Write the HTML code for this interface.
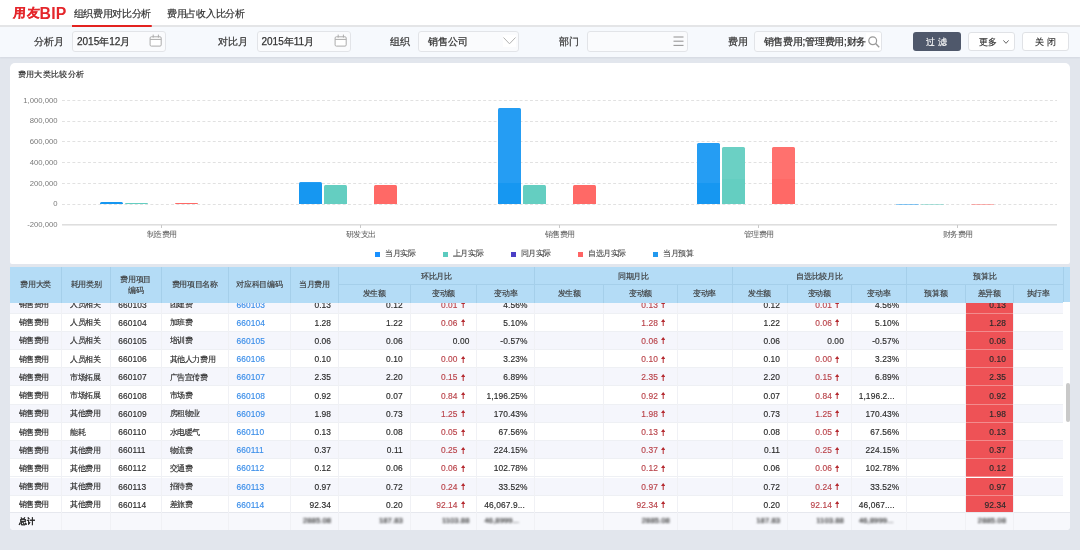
<!DOCTYPE html><html><head><meta charset="utf-8"><style>
*{box-sizing:border-box;margin:0;padding:0}
html,body{width:1080px;height:550px;overflow:hidden}
body{position:relative;background:#e2e6ed;font-family:"Liberation Sans",sans-serif;color:#333}
.abs{position:absolute}
.t{position:absolute;white-space:nowrap;line-height:1}
#hdr{left:0;top:0;width:1080px;height:27px;background:#fff;border-bottom:2px solid #e4e5e7}
#fb{left:0;top:27px;width:1080px;height:29.5px;background:#f6f9fd;box-shadow:0 1px 1.5px rgba(120,130,150,0.12)}
.lbl{font-size:10px;color:#3a3a3a;-webkit-text-stroke:0.25px #3a3a3a}
.inp{position:absolute;top:31px;height:21px;border:1px solid #e2e4e8;border-radius:3px;background:#fafbfd}
.inp .v{position:absolute;left:4px;top:5px;font-size:10px;color:#333;white-space:nowrap;line-height:1;-webkit-text-stroke:0.25px #333}
.btn{-webkit-text-stroke:0.15px currentColor;position:absolute;top:32px;height:19px;border-radius:3px;font-size:9px;text-align:center;line-height:20.5px}
.card{position:absolute;background:#fff}
.ax{font-size:7.7px;color:#7a7a7a;text-align:right;width:50px}
.grid{position:absolute;left:62px;width:995px;height:1px;background:repeating-linear-gradient(to right,#e3e3e3 0,#e3e3e3 3px,transparent 3px,transparent 5.2px)}
.bar{position:absolute;border-radius:1.5px 1.5px 0 0}
.xl{font-size:7.5px;color:#5a5a5a;letter-spacing:-0.4px}
.lg{position:absolute;top:251.5px;width:5px;height:5px}
.lgt{font-size:7.5px;color:#4a4a4a;letter-spacing:-0.4px;-webkit-text-stroke:0.1px #4a4a4a}
.th{position:absolute;font-size:7.5px;letter-spacing:-0.35px;color:#3a3a3a;text-align:center;line-height:1;-webkit-text-stroke:0.15px #3a3a3a}
.cell{position:absolute;font-size:7.5px;letter-spacing:-0.3px;line-height:1;white-space:nowrap;color:#2a2a2a;-webkit-text-stroke:0.15px currentColor}
.num{font-size:8.4px;letter-spacing:0.1px}
.r{text-align:right}
.red{color:#b9434a}
.arr{color:#b52a30;font-size:7.5px}
.lnk{color:#3b8ee9}
</style></head><body><div id="root" style="position:absolute;left:0;top:0;width:1080px;height:550px;will-change:transform">
<div id="hdr" class="abs"></div>
<div class="t" style="left:12.8px;top:7.2px;color:#e4262b;font-weight:700;font-size:12.5px;letter-spacing:0.9px;-webkit-text-stroke:0.25px #e4262b;transform:skewX(-4deg);transform-origin:0 100%">用友</div>
<div class="t" style="left:39.6px;top:6.3px;color:#e4262b;font-weight:bold;font-size:15.8px;letter-spacing:0.15px">BIP</div>
<div class="t" style="left:73.6px;top:8.5px;font-size:9.75px;letter-spacing:-0.3px;color:#333;-webkit-text-stroke:0.2px #333">组织费用对比分析</div>
<div class="t" style="left:167px;top:8.5px;font-size:9.75px;letter-spacing:-0.3px;color:#333;-webkit-text-stroke:0.2px #333">费用占收入比分析</div>
<div id="fb" class="abs"></div>
<div class="abs" style="left:72px;top:25px;width:80px;height:2px;border-radius:0 1px 1px 0;background:#e3221f"></div>
<div class="t lbl" style="left:33.5px;top:37px">分析月</div>
<div class="t lbl" style="left:217.8px;top:37px">对比月</div>
<div class="t lbl" style="left:390px;top:37px">组织</div>
<div class="t lbl" style="left:558.7px;top:37px">部门</div>
<div class="t lbl" style="left:727.5px;top:37px">费用</div>
<div class="inp" style="left:72px;width:93.5px"><div class="v">2015年12月</div></div>
<svg class="abs" style="left:149px;top:34px" width="14" height="14" viewBox="0 0 14 14"><rect x="1.1" y="2.8" width="11.1" height="9.3" rx="1.2" fill="#fff" stroke="#acacac" stroke-width="1"/><line x1="1.1" y1="5.4" x2="12.2" y2="5.4" stroke="#acacac" stroke-width="1"/><line x1="4.2" y1="0.6" x2="4.2" y2="3.6" stroke="#acacac"/><line x1="9.4" y1="0.6" x2="9.4" y2="3.6" stroke="#acacac"/></svg>
<div class="inp" style="left:256.5px;width:94px"><div class="v">2015年11月</div></div>
<svg class="abs" style="left:333.5px;top:34px" width="14" height="14" viewBox="0 0 14 14"><rect x="1.1" y="2.8" width="11.1" height="9.3" rx="1.2" fill="#fff" stroke="#acacac" stroke-width="1"/><line x1="1.1" y1="5.4" x2="12.2" y2="5.4" stroke="#acacac" stroke-width="1"/><line x1="4.2" y1="0.6" x2="4.2" y2="3.6" stroke="#acacac"/><line x1="9.4" y1="0.6" x2="9.4" y2="3.6" stroke="#acacac"/></svg>
<div class="inp" style="left:418px;width:101px"><div class="v" style="left:9px">销售公司</div></div>
<div class="abs" style="left:503px;top:35px;width:13px;height:11.5px;background:#fff"></div>
<svg class="abs" style="left:503px;top:37.3px" width="13" height="8" viewBox="0 0 13 8"><polyline points="0.5,0.5 6.5,6.8 12.5,0.5" fill="none" stroke="#b0b0b0" stroke-width="1"/></svg>
<div class="inp" style="left:586.5px;width:101.5px"></div>
<svg class="abs" style="left:673px;top:36px" width="11" height="11" viewBox="0 0 11 11"><g stroke="#999" stroke-width="1.1"><line x1="0.5" y1="1" x2="10.5" y2="1"/><line x1="0.5" y1="5.2" x2="10.5" y2="5.2"/><line x1="0.5" y1="9.4" x2="10.5" y2="9.4"/></g></svg>
<div class="inp" style="left:753.5px;width:128.5px;overflow:hidden"><div class="v" style="left:9px;letter-spacing:-0.25px">销售费用;管理费用;财务</div><div class="abs" style="left:111.5px;top:1px;width:15px;height:17px;background:#fff"></div></div>
<svg class="abs" style="left:867.5px;top:36.3px" width="12" height="12" viewBox="0 0 12 12"><circle cx="4.7" cy="4.7" r="3.9" fill="none" stroke="#999" stroke-width="1.2"/><line x1="7.6" y1="7.6" x2="11.2" y2="11.2" stroke="#999" stroke-width="1.4"/></svg>
<div class="btn" style="left:913px;width:47.5px;background:#4f586b;color:#fff;letter-spacing:3.5px;padding-left:3px">过滤</div>
<div class="btn" style="left:967.5px;width:47px;background:#fff;border:1px solid #e0e2e6;color:#333;line-height:19px"><span style="position:absolute;left:10px;top:0">更多</span></div>
<svg class="abs" style="left:1002.5px;top:39.5px" width="6" height="4" viewBox="0 0 6 4"><polyline points="0.4,0.4 3,3.3 5.6,0.4" fill="none" stroke="#555" stroke-width="0.9"/></svg>
<div class="btn" style="left:1022px;width:47px;background:#fff;border:1px solid #e0e2e6;color:#333;letter-spacing:3.5px;padding-left:3px;line-height:19px">关闭</div>
<div class="card" style="left:10px;top:63px;width:1060px;height:201px;border-radius:5px 5px 2px 2px"></div>
<div class="t" style="left:17.8px;top:69.8px;font-size:8.3px;letter-spacing:0.3px;color:#2a2a2a;-webkit-text-stroke:0.15px #2a2a2a">费用大类比较分析</div>
<div class="t ax" style="left:7.5px;top:96.5px">1,000,000</div>
<div class="t ax" style="left:7.5px;top:117.2px">800,000</div>
<div class="t ax" style="left:7.5px;top:138.0px">600,000</div>
<div class="t ax" style="left:7.5px;top:158.8px">400,000</div>
<div class="t ax" style="left:7.5px;top:179.5px">200,000</div>
<div class="t ax" style="left:7.5px;top:200.2px">0</div>
<div class="t ax" style="left:7.5px;top:221.0px">-200,000</div>
<svg class="abs" style="left:62px;top:90px" width="995" height="120" viewBox="0 0 995 120"><line x1="0" y1="10.5" x2="995" y2="10.5" stroke="#e1e1e1" stroke-width="1" stroke-dasharray="2.9 2.3"/><line x1="0" y1="31.5" x2="995" y2="31.5" stroke="#e1e1e1" stroke-width="1" stroke-dasharray="2.9 2.3"/><line x1="0" y1="51.5" x2="995" y2="51.5" stroke="#e1e1e1" stroke-width="1" stroke-dasharray="2.9 2.3"/><line x1="0" y1="72.5" x2="995" y2="72.5" stroke="#e1e1e1" stroke-width="1" stroke-dasharray="2.9 2.3"/><line x1="0" y1="93.5" x2="995" y2="93.5" stroke="#e1e1e1" stroke-width="1" stroke-dasharray="2.9 2.3"/><line x1="0" y1="114.5" x2="995" y2="114.5" stroke="#e1e1e1" stroke-width="1" stroke-dasharray="2.9 2.3"/></svg>
<div class="abs" style="left:62px;top:224px;width:995px;height:1px;background:#dedede"></div>
<div class="abs" style="left:62px;top:225px;width:995px;height:1px;background:#ececec"></div>
<div class="abs" style="left:161.0px;top:225px;width:1px;height:2.5px;background:#c8c8c8"></div>
<div class="t xl" style="left:146.5px;top:230.9px">制造费用</div>
<div class="bar" style="left:100.0px;top:201.8px;width:23px;height:2.4px;background:#1697f1;opacity:1"></div>
<div class="bar" style="left:125.0px;top:203.0px;width:23px;height:1.2px;background:#64cec1;opacity:1"></div>
<div class="bar" style="left:175.0px;top:203.0px;width:23px;height:1.2px;background:#ff6966;opacity:1"></div>
<div class="abs" style="left:360.0px;top:225px;width:1px;height:2.5px;background:#c8c8c8"></div>
<div class="t xl" style="left:345.5px;top:230.9px">研发支出</div>
<div class="bar" style="left:299.0px;top:182.2px;width:23px;height:22.0px;background:linear-gradient(to bottom,#259df3 0,#259df3 1.0px,#1697f1 1.0px,#1697f1 100%);opacity:1"></div>
<div class="bar" style="left:324.0px;top:184.7px;width:23px;height:19.5px;background:#64cec1;opacity:1"></div>
<div class="bar" style="left:374.0px;top:184.7px;width:23px;height:19.5px;background:#ff6966;opacity:1"></div>
<div class="abs" style="left:559.0px;top:225px;width:1px;height:2.5px;background:#c8c8c8"></div>
<div class="t xl" style="left:544.5px;top:230.9px">销售费用</div>
<div class="bar" style="left:498.0px;top:108.2px;width:23px;height:96.0px;background:linear-gradient(to bottom,#259df3 0,#259df3 75.0px,#1697f1 75.0px,#1697f1 100%);opacity:1"></div>
<div class="bar" style="left:523.0px;top:184.5px;width:23px;height:19.7px;background:#64cec1;opacity:1"></div>
<div class="bar" style="left:573.0px;top:184.5px;width:23px;height:19.7px;background:#ff6966;opacity:1"></div>
<div class="abs" style="left:758.0px;top:225px;width:1px;height:2.5px;background:#c8c8c8"></div>
<div class="t xl" style="left:743.5px;top:230.9px">管理费用</div>
<div class="bar" style="left:697.0px;top:143.2px;width:23px;height:61.0px;background:linear-gradient(to bottom,#259df3 0,#259df3 40.0px,#1697f1 40.0px,#1697f1 100%);opacity:1"></div>
<div class="bar" style="left:722.0px;top:146.8px;width:23px;height:57.4px;background:linear-gradient(to bottom,#6bd0c4 0,#6bd0c4 31.8px,#64cec1 31.8px,#64cec1 100%);opacity:1"></div>
<div class="bar" style="left:772.0px;top:146.8px;width:23px;height:57.4px;background:linear-gradient(to bottom,#ff716e 0,#ff716e 31.8px,#ff6966 31.8px,#ff6966 100%);opacity:1"></div>
<div class="abs" style="left:957.0px;top:225px;width:1px;height:2.5px;background:#c8c8c8"></div>
<div class="t xl" style="left:942.5px;top:230.9px">财务费用</div>
<div class="bar" style="left:896.0px;top:204.0px;width:23px;height:1.0px;background:#1697f1;opacity:0.5"></div>
<div class="bar" style="left:921.0px;top:204.0px;width:23px;height:1.0px;background:#64cec1;opacity:0.5"></div>
<div class="bar" style="left:971.0px;top:204.0px;width:23px;height:1.0px;background:#ff6966;opacity:0.5"></div>
<div class="lg" style="left:375px;background:#1890ff"></div>
<div class="t lgt" style="left:385.0px;top:250.3px">当月实际</div>
<div class="lg" style="left:442.8px;background:#5ccbbf"></div>
<div class="t lgt" style="left:452.8px;top:250.3px">上月实际</div>
<div class="lg" style="left:510.5px;background:#4b3fc6"></div>
<div class="t lgt" style="left:520.5px;top:250.3px">同月实际</div>
<div class="lg" style="left:578px;background:#ff6464"></div>
<div class="t lgt" style="left:588.0px;top:250.3px">自选月实际</div>
<div class="lg" style="left:653px;background:#2299ee"></div>
<div class="t lgt" style="left:663.0px;top:250.3px">当月预算</div>
<div class="card" style="left:10px;top:267px;width:1060px;height:263px;border-radius:0 0 4px 4px;overflow:hidden" id="tbl">
<div class="abs" style="left:0;top:28.30px;width:1053.2px;height:18.22px;background:#f5f6fc;border-bottom:1px solid #eef0f4"></div>
<div class="abs" style="left:0;top:46.52px;width:1053.2px;height:18.22px;background:#ffffff;border-bottom:1px solid #eef0f4"></div>
<div class="abs" style="left:0;top:64.74px;width:1053.2px;height:18.22px;background:#f5f6fc;border-bottom:1px solid #eef0f4"></div>
<div class="abs" style="left:0;top:82.96px;width:1053.2px;height:18.22px;background:#ffffff;border-bottom:1px solid #eef0f4"></div>
<div class="abs" style="left:0;top:101.18px;width:1053.2px;height:18.22px;background:#f5f6fc;border-bottom:1px solid #eef0f4"></div>
<div class="abs" style="left:0;top:119.40px;width:1053.2px;height:18.22px;background:#ffffff;border-bottom:1px solid #eef0f4"></div>
<div class="abs" style="left:0;top:137.62px;width:1053.2px;height:18.22px;background:#f5f6fc;border-bottom:1px solid #eef0f4"></div>
<div class="abs" style="left:0;top:155.84px;width:1053.2px;height:18.22px;background:#ffffff;border-bottom:1px solid #eef0f4"></div>
<div class="abs" style="left:0;top:174.06px;width:1053.2px;height:18.22px;background:#f5f6fc;border-bottom:1px solid #eef0f4"></div>
<div class="abs" style="left:0;top:192.28px;width:1053.2px;height:18.22px;background:#ffffff;border-bottom:1px solid #eef0f4"></div>
<div class="abs" style="left:0;top:210.50px;width:1053.2px;height:18.22px;background:#f5f6fc;border-bottom:1px solid #eef0f4"></div>
<div class="abs" style="left:0;top:228.72px;width:1053.2px;height:18.22px;background:#ffffff;border-bottom:1px solid #eef0f4"></div>
<div class="abs" style="left:955.3px;top:28.30px;width:47.9px;height:18.22px;background:#ee5256;border-bottom:1px solid #f28b8d"></div>
<div class="abs" style="left:955.3px;top:46.52px;width:47.9px;height:18.22px;background:#ee5256;border-bottom:1px solid #f28b8d"></div>
<div class="abs" style="left:955.3px;top:64.74px;width:47.9px;height:18.22px;background:#ee5256;border-bottom:1px solid #f28b8d"></div>
<div class="abs" style="left:955.3px;top:82.96px;width:47.9px;height:18.22px;background:#ee5256;border-bottom:1px solid #f28b8d"></div>
<div class="abs" style="left:955.3px;top:101.18px;width:47.9px;height:18.22px;background:#ee5256;border-bottom:1px solid #f28b8d"></div>
<div class="abs" style="left:955.3px;top:119.40px;width:47.9px;height:18.22px;background:#ee5256;border-bottom:1px solid #f28b8d"></div>
<div class="abs" style="left:955.3px;top:137.62px;width:47.9px;height:18.22px;background:#ee5256;border-bottom:1px solid #f28b8d"></div>
<div class="abs" style="left:955.3px;top:155.84px;width:47.9px;height:18.22px;background:#ee5256;border-bottom:1px solid #f28b8d"></div>
<div class="abs" style="left:955.3px;top:174.06px;width:47.9px;height:18.22px;background:#ee5256;border-bottom:1px solid #f28b8d"></div>
<div class="abs" style="left:955.3px;top:192.28px;width:47.9px;height:18.22px;background:#ee5256;border-bottom:1px solid #f28b8d"></div>
<div class="abs" style="left:955.3px;top:210.50px;width:47.9px;height:18.22px;background:#ee5256;border-bottom:1px solid #f28b8d"></div>
<div class="abs" style="left:955.3px;top:228.72px;width:47.9px;height:18.22px;background:#ee5256;border-bottom:1px solid #f28b8d"></div>
<div class="abs" style="left:0;top:245.0px;width:1060px;height:19px;background:#f7f8fc;border-top:1px solid #e6e8ee"></div>
<div class="abs" style="left:51.0px;top:30px;width:1px;height:263px;background:#f0f1f5"></div>
<div class="abs" style="left:99.8px;top:30px;width:1px;height:263px;background:#f0f1f5"></div>
<div class="abs" style="left:150.5px;top:30px;width:1px;height:263px;background:#f0f1f5"></div>
<div class="abs" style="left:217.9px;top:30px;width:1px;height:263px;background:#f0f1f5"></div>
<div class="abs" style="left:279.9px;top:30px;width:1px;height:263px;background:#f0f1f5"></div>
<div class="abs" style="left:327.8px;top:30px;width:1px;height:263px;background:#f0f1f5"></div>
<div class="abs" style="left:399.5px;top:30px;width:1px;height:263px;background:#f0f1f5"></div>
<div class="abs" style="left:466.2px;top:30px;width:1px;height:263px;background:#f0f1f5"></div>
<div class="abs" style="left:524.2px;top:30px;width:1px;height:263px;background:#f0f1f5"></div>
<div class="abs" style="left:593.3px;top:30px;width:1px;height:263px;background:#f0f1f5"></div>
<div class="abs" style="left:666.6px;top:30px;width:1px;height:263px;background:#f0f1f5"></div>
<div class="abs" style="left:721.5px;top:30px;width:1px;height:263px;background:#f0f1f5"></div>
<div class="abs" style="left:776.8px;top:30px;width:1px;height:263px;background:#f0f1f5"></div>
<div class="abs" style="left:840.6px;top:30px;width:1px;height:263px;background:#f0f1f5"></div>
<div class="abs" style="left:896.0px;top:30px;width:1px;height:263px;background:#f0f1f5"></div>
<div class="abs" style="left:954.8px;top:30px;width:1px;height:263px;background:#f0f1f5"></div>
<div class="abs" style="left:1002.7px;top:30px;width:1px;height:263px;background:#f0f1f5"></div>
<div class="cell" style="left:8.5px;top:34.01px;letter-spacing:-0.35px">销售费用</div>
<div class="cell" style="left:60.0px;top:34.01px;letter-spacing:-0.35px">人员相关</div>
<div class="cell num" style="left:108.3px;top:33.51px">660103</div>
<div class="cell" style="left:159.5px;top:34.01px;letter-spacing:-0.35px">团建费</div>
<div class="cell num lnk" style="left:226.4px;top:33.51px">660103</div>
<div class="cell num r" style="left:280.4px;width:40.7px;top:33.51px">0.13</div>
<div class="cell num r" style="left:328.3px;width:64.5px;top:33.51px">0.12</div>
<div class="cell num r red" style="left:400.0px;width:55.0px;top:33.51px">0.01<svg style="margin-left:3px;vertical-align:-0.5px" width="4.4" height="7" viewBox="0 0 4.4 7"><path d="M2.2 0 L4.4 3 L2.7 3 L2.7 7 L1.7 7 L1.7 3 L0 3 Z" fill="#b52a30"/></svg></div>
<div class="cell num r" style="left:466.7px;width:50.8px;top:33.51px">4.56%</div>
<div class="cell num r red" style="left:593.8px;width:61.6px;top:33.51px">0.13<svg style="margin-left:3px;vertical-align:-0.5px" width="4.4" height="7" viewBox="0 0 4.4 7"><path d="M2.2 0 L4.4 3 L2.7 3 L2.7 7 L1.7 7 L1.7 3 L0 3 Z" fill="#b52a30"/></svg></div>
<div class="cell num r" style="left:722.0px;width:48.1px;top:33.51px">0.12</div>
<div class="cell num r red" style="left:777.3px;width:52.1px;top:33.51px">0.01<svg style="margin-left:3px;vertical-align:-0.5px" width="4.4" height="7" viewBox="0 0 4.4 7"><path d="M2.2 0 L4.4 3 L2.7 3 L2.7 7 L1.7 7 L1.7 3 L0 3 Z" fill="#b52a30"/></svg></div>
<div class="cell num r" style="left:841.1px;width:48.2px;top:33.51px">4.56%</div>
<div class="cell num r" style="left:955.3px;width:40.7px;top:33.51px">0.13</div>
<div class="cell" style="left:8.5px;top:52.23px;letter-spacing:-0.35px">销售费用</div>
<div class="cell" style="left:60.0px;top:52.23px;letter-spacing:-0.35px">人员相关</div>
<div class="cell num" style="left:108.3px;top:51.73px">660104</div>
<div class="cell" style="left:159.5px;top:52.23px;letter-spacing:-0.35px">加班费</div>
<div class="cell num lnk" style="left:226.4px;top:51.73px">660104</div>
<div class="cell num r" style="left:280.4px;width:40.7px;top:51.73px">1.28</div>
<div class="cell num r" style="left:328.3px;width:64.5px;top:51.73px">1.22</div>
<div class="cell num r red" style="left:400.0px;width:55.0px;top:51.73px">0.06<svg style="margin-left:3px;vertical-align:-0.5px" width="4.4" height="7" viewBox="0 0 4.4 7"><path d="M2.2 0 L4.4 3 L2.7 3 L2.7 7 L1.7 7 L1.7 3 L0 3 Z" fill="#b52a30"/></svg></div>
<div class="cell num r" style="left:466.7px;width:50.8px;top:51.73px">5.10%</div>
<div class="cell num r red" style="left:593.8px;width:61.6px;top:51.73px">1.28<svg style="margin-left:3px;vertical-align:-0.5px" width="4.4" height="7" viewBox="0 0 4.4 7"><path d="M2.2 0 L4.4 3 L2.7 3 L2.7 7 L1.7 7 L1.7 3 L0 3 Z" fill="#b52a30"/></svg></div>
<div class="cell num r" style="left:722.0px;width:48.1px;top:51.73px">1.22</div>
<div class="cell num r red" style="left:777.3px;width:52.1px;top:51.73px">0.06<svg style="margin-left:3px;vertical-align:-0.5px" width="4.4" height="7" viewBox="0 0 4.4 7"><path d="M2.2 0 L4.4 3 L2.7 3 L2.7 7 L1.7 7 L1.7 3 L0 3 Z" fill="#b52a30"/></svg></div>
<div class="cell num r" style="left:841.1px;width:48.2px;top:51.73px">5.10%</div>
<div class="cell num r" style="left:955.3px;width:40.7px;top:51.73px">1.28</div>
<div class="cell" style="left:8.5px;top:70.45px;letter-spacing:-0.35px">销售费用</div>
<div class="cell" style="left:60.0px;top:70.45px;letter-spacing:-0.35px">人员相关</div>
<div class="cell num" style="left:108.3px;top:69.95px">660105</div>
<div class="cell" style="left:159.5px;top:70.45px;letter-spacing:-0.35px">培训费</div>
<div class="cell num lnk" style="left:226.4px;top:69.95px">660105</div>
<div class="cell num r" style="left:280.4px;width:40.7px;top:69.95px">0.06</div>
<div class="cell num r" style="left:328.3px;width:64.5px;top:69.95px">0.06</div>
<div class="cell num r" style="left:400.0px;width:59.5px;top:69.95px">0.00</div>
<div class="cell num r" style="left:466.7px;width:50.8px;top:69.95px">-0.57%</div>
<div class="cell num r red" style="left:593.8px;width:61.6px;top:69.95px">0.06<svg style="margin-left:3px;vertical-align:-0.5px" width="4.4" height="7" viewBox="0 0 4.4 7"><path d="M2.2 0 L4.4 3 L2.7 3 L2.7 7 L1.7 7 L1.7 3 L0 3 Z" fill="#b52a30"/></svg></div>
<div class="cell num r" style="left:722.0px;width:48.1px;top:69.95px">0.06</div>
<div class="cell num r" style="left:777.3px;width:56.6px;top:69.95px">0.00</div>
<div class="cell num r" style="left:841.1px;width:48.2px;top:69.95px">-0.57%</div>
<div class="cell num r" style="left:955.3px;width:40.7px;top:69.95px">0.06</div>
<div class="cell" style="left:8.5px;top:88.67px;letter-spacing:-0.35px">销售费用</div>
<div class="cell" style="left:60.0px;top:88.67px;letter-spacing:-0.35px">人员相关</div>
<div class="cell num" style="left:108.3px;top:88.17px">660106</div>
<div class="cell" style="left:159.5px;top:88.67px;letter-spacing:-0.35px">其他人力费用</div>
<div class="cell num lnk" style="left:226.4px;top:88.17px">660106</div>
<div class="cell num r" style="left:280.4px;width:40.7px;top:88.17px">0.10</div>
<div class="cell num r" style="left:328.3px;width:64.5px;top:88.17px">0.10</div>
<div class="cell num r red" style="left:400.0px;width:55.0px;top:88.17px">0.00<svg style="margin-left:3px;vertical-align:-0.5px" width="4.4" height="7" viewBox="0 0 4.4 7"><path d="M2.2 0 L4.4 3 L2.7 3 L2.7 7 L1.7 7 L1.7 3 L0 3 Z" fill="#b52a30"/></svg></div>
<div class="cell num r" style="left:466.7px;width:50.8px;top:88.17px">3.23%</div>
<div class="cell num r red" style="left:593.8px;width:61.6px;top:88.17px">0.10<svg style="margin-left:3px;vertical-align:-0.5px" width="4.4" height="7" viewBox="0 0 4.4 7"><path d="M2.2 0 L4.4 3 L2.7 3 L2.7 7 L1.7 7 L1.7 3 L0 3 Z" fill="#b52a30"/></svg></div>
<div class="cell num r" style="left:722.0px;width:48.1px;top:88.17px">0.10</div>
<div class="cell num r red" style="left:777.3px;width:52.1px;top:88.17px">0.00<svg style="margin-left:3px;vertical-align:-0.5px" width="4.4" height="7" viewBox="0 0 4.4 7"><path d="M2.2 0 L4.4 3 L2.7 3 L2.7 7 L1.7 7 L1.7 3 L0 3 Z" fill="#b52a30"/></svg></div>
<div class="cell num r" style="left:841.1px;width:48.2px;top:88.17px">3.23%</div>
<div class="cell num r" style="left:955.3px;width:40.7px;top:88.17px">0.10</div>
<div class="cell" style="left:8.5px;top:106.89px;letter-spacing:-0.35px">销售费用</div>
<div class="cell" style="left:60.0px;top:106.89px;letter-spacing:-0.35px">市场拓展</div>
<div class="cell num" style="left:108.3px;top:106.39px">660107</div>
<div class="cell" style="left:159.5px;top:106.89px;letter-spacing:-0.35px">广告宣传费</div>
<div class="cell num lnk" style="left:226.4px;top:106.39px">660107</div>
<div class="cell num r" style="left:280.4px;width:40.7px;top:106.39px">2.35</div>
<div class="cell num r" style="left:328.3px;width:64.5px;top:106.39px">2.20</div>
<div class="cell num r red" style="left:400.0px;width:55.0px;top:106.39px">0.15<svg style="margin-left:3px;vertical-align:-0.5px" width="4.4" height="7" viewBox="0 0 4.4 7"><path d="M2.2 0 L4.4 3 L2.7 3 L2.7 7 L1.7 7 L1.7 3 L0 3 Z" fill="#b52a30"/></svg></div>
<div class="cell num r" style="left:466.7px;width:50.8px;top:106.39px">6.89%</div>
<div class="cell num r red" style="left:593.8px;width:61.6px;top:106.39px">2.35<svg style="margin-left:3px;vertical-align:-0.5px" width="4.4" height="7" viewBox="0 0 4.4 7"><path d="M2.2 0 L4.4 3 L2.7 3 L2.7 7 L1.7 7 L1.7 3 L0 3 Z" fill="#b52a30"/></svg></div>
<div class="cell num r" style="left:722.0px;width:48.1px;top:106.39px">2.20</div>
<div class="cell num r red" style="left:777.3px;width:52.1px;top:106.39px">0.15<svg style="margin-left:3px;vertical-align:-0.5px" width="4.4" height="7" viewBox="0 0 4.4 7"><path d="M2.2 0 L4.4 3 L2.7 3 L2.7 7 L1.7 7 L1.7 3 L0 3 Z" fill="#b52a30"/></svg></div>
<div class="cell num r" style="left:841.1px;width:48.2px;top:106.39px">6.89%</div>
<div class="cell num r" style="left:955.3px;width:40.7px;top:106.39px">2.35</div>
<div class="cell" style="left:8.5px;top:125.11px;letter-spacing:-0.35px">销售费用</div>
<div class="cell" style="left:60.0px;top:125.11px;letter-spacing:-0.35px">市场拓展</div>
<div class="cell num" style="left:108.3px;top:124.61px">660108</div>
<div class="cell" style="left:159.5px;top:125.11px;letter-spacing:-0.35px">市场费</div>
<div class="cell num lnk" style="left:226.4px;top:124.61px">660108</div>
<div class="cell num r" style="left:280.4px;width:40.7px;top:124.61px">0.92</div>
<div class="cell num r" style="left:328.3px;width:64.5px;top:124.61px">0.07</div>
<div class="cell num r red" style="left:400.0px;width:55.0px;top:124.61px">0.84<svg style="margin-left:3px;vertical-align:-0.5px" width="4.4" height="7" viewBox="0 0 4.4 7"><path d="M2.2 0 L4.4 3 L2.7 3 L2.7 7 L1.7 7 L1.7 3 L0 3 Z" fill="#b52a30"/></svg></div>
<div class="cell num r" style="left:466.7px;width:50.8px;top:124.61px">1,196.25%</div>
<div class="cell num r red" style="left:593.8px;width:61.6px;top:124.61px">0.92<svg style="margin-left:3px;vertical-align:-0.5px" width="4.4" height="7" viewBox="0 0 4.4 7"><path d="M2.2 0 L4.4 3 L2.7 3 L2.7 7 L1.7 7 L1.7 3 L0 3 Z" fill="#b52a30"/></svg></div>
<div class="cell num r" style="left:722.0px;width:48.1px;top:124.61px">0.07</div>
<div class="cell num r red" style="left:777.3px;width:52.1px;top:124.61px">0.84<svg style="margin-left:3px;vertical-align:-0.5px" width="4.4" height="7" viewBox="0 0 4.4 7"><path d="M2.2 0 L4.4 3 L2.7 3 L2.7 7 L1.7 7 L1.7 3 L0 3 Z" fill="#b52a30"/></svg></div>
<div class="cell num" style="left:848.7px;top:124.61px">1,196.2...</div>
<div class="cell num r" style="left:955.3px;width:40.7px;top:124.61px">0.92</div>
<div class="cell" style="left:8.5px;top:143.33px;letter-spacing:-0.35px">销售费用</div>
<div class="cell" style="left:60.0px;top:143.33px;letter-spacing:-0.35px">其他费用</div>
<div class="cell num" style="left:108.3px;top:142.83px">660109</div>
<div class="cell" style="left:159.5px;top:143.33px;letter-spacing:-0.35px">房租物业</div>
<div class="cell num lnk" style="left:226.4px;top:142.83px">660109</div>
<div class="cell num r" style="left:280.4px;width:40.7px;top:142.83px">1.98</div>
<div class="cell num r" style="left:328.3px;width:64.5px;top:142.83px">0.73</div>
<div class="cell num r red" style="left:400.0px;width:55.0px;top:142.83px">1.25<svg style="margin-left:3px;vertical-align:-0.5px" width="4.4" height="7" viewBox="0 0 4.4 7"><path d="M2.2 0 L4.4 3 L2.7 3 L2.7 7 L1.7 7 L1.7 3 L0 3 Z" fill="#b52a30"/></svg></div>
<div class="cell num r" style="left:466.7px;width:50.8px;top:142.83px">170.43%</div>
<div class="cell num r red" style="left:593.8px;width:61.6px;top:142.83px">1.98<svg style="margin-left:3px;vertical-align:-0.5px" width="4.4" height="7" viewBox="0 0 4.4 7"><path d="M2.2 0 L4.4 3 L2.7 3 L2.7 7 L1.7 7 L1.7 3 L0 3 Z" fill="#b52a30"/></svg></div>
<div class="cell num r" style="left:722.0px;width:48.1px;top:142.83px">0.73</div>
<div class="cell num r red" style="left:777.3px;width:52.1px;top:142.83px">1.25<svg style="margin-left:3px;vertical-align:-0.5px" width="4.4" height="7" viewBox="0 0 4.4 7"><path d="M2.2 0 L4.4 3 L2.7 3 L2.7 7 L1.7 7 L1.7 3 L0 3 Z" fill="#b52a30"/></svg></div>
<div class="cell num r" style="left:841.1px;width:48.2px;top:142.83px">170.43%</div>
<div class="cell num r" style="left:955.3px;width:40.7px;top:142.83px">1.98</div>
<div class="cell" style="left:8.5px;top:161.55px;letter-spacing:-0.35px">销售费用</div>
<div class="cell" style="left:60.0px;top:161.55px;letter-spacing:-0.35px">能耗</div>
<div class="cell num" style="left:108.3px;top:161.05px">660110</div>
<div class="cell" style="left:159.5px;top:161.55px;letter-spacing:-0.35px">水电暖气</div>
<div class="cell num lnk" style="left:226.4px;top:161.05px">660110</div>
<div class="cell num r" style="left:280.4px;width:40.7px;top:161.05px">0.13</div>
<div class="cell num r" style="left:328.3px;width:64.5px;top:161.05px">0.08</div>
<div class="cell num r red" style="left:400.0px;width:55.0px;top:161.05px">0.05<svg style="margin-left:3px;vertical-align:-0.5px" width="4.4" height="7" viewBox="0 0 4.4 7"><path d="M2.2 0 L4.4 3 L2.7 3 L2.7 7 L1.7 7 L1.7 3 L0 3 Z" fill="#b52a30"/></svg></div>
<div class="cell num r" style="left:466.7px;width:50.8px;top:161.05px">67.56%</div>
<div class="cell num r red" style="left:593.8px;width:61.6px;top:161.05px">0.13<svg style="margin-left:3px;vertical-align:-0.5px" width="4.4" height="7" viewBox="0 0 4.4 7"><path d="M2.2 0 L4.4 3 L2.7 3 L2.7 7 L1.7 7 L1.7 3 L0 3 Z" fill="#b52a30"/></svg></div>
<div class="cell num r" style="left:722.0px;width:48.1px;top:161.05px">0.08</div>
<div class="cell num r red" style="left:777.3px;width:52.1px;top:161.05px">0.05<svg style="margin-left:3px;vertical-align:-0.5px" width="4.4" height="7" viewBox="0 0 4.4 7"><path d="M2.2 0 L4.4 3 L2.7 3 L2.7 7 L1.7 7 L1.7 3 L0 3 Z" fill="#b52a30"/></svg></div>
<div class="cell num r" style="left:841.1px;width:48.2px;top:161.05px">67.56%</div>
<div class="cell num r" style="left:955.3px;width:40.7px;top:161.05px">0.13</div>
<div class="cell" style="left:8.5px;top:179.77px;letter-spacing:-0.35px">销售费用</div>
<div class="cell" style="left:60.0px;top:179.77px;letter-spacing:-0.35px">其他费用</div>
<div class="cell num" style="left:108.3px;top:179.27px">660111</div>
<div class="cell" style="left:159.5px;top:179.77px;letter-spacing:-0.35px">物流费</div>
<div class="cell num lnk" style="left:226.4px;top:179.27px">660111</div>
<div class="cell num r" style="left:280.4px;width:40.7px;top:179.27px">0.37</div>
<div class="cell num r" style="left:328.3px;width:64.5px;top:179.27px">0.11</div>
<div class="cell num r red" style="left:400.0px;width:55.0px;top:179.27px">0.25<svg style="margin-left:3px;vertical-align:-0.5px" width="4.4" height="7" viewBox="0 0 4.4 7"><path d="M2.2 0 L4.4 3 L2.7 3 L2.7 7 L1.7 7 L1.7 3 L0 3 Z" fill="#b52a30"/></svg></div>
<div class="cell num r" style="left:466.7px;width:50.8px;top:179.27px">224.15%</div>
<div class="cell num r red" style="left:593.8px;width:61.6px;top:179.27px">0.37<svg style="margin-left:3px;vertical-align:-0.5px" width="4.4" height="7" viewBox="0 0 4.4 7"><path d="M2.2 0 L4.4 3 L2.7 3 L2.7 7 L1.7 7 L1.7 3 L0 3 Z" fill="#b52a30"/></svg></div>
<div class="cell num r" style="left:722.0px;width:48.1px;top:179.27px">0.11</div>
<div class="cell num r red" style="left:777.3px;width:52.1px;top:179.27px">0.25<svg style="margin-left:3px;vertical-align:-0.5px" width="4.4" height="7" viewBox="0 0 4.4 7"><path d="M2.2 0 L4.4 3 L2.7 3 L2.7 7 L1.7 7 L1.7 3 L0 3 Z" fill="#b52a30"/></svg></div>
<div class="cell num r" style="left:841.1px;width:48.2px;top:179.27px">224.15%</div>
<div class="cell num r" style="left:955.3px;width:40.7px;top:179.27px">0.37</div>
<div class="cell" style="left:8.5px;top:197.99px;letter-spacing:-0.35px">销售费用</div>
<div class="cell" style="left:60.0px;top:197.99px;letter-spacing:-0.35px">其他费用</div>
<div class="cell num" style="left:108.3px;top:197.49px">660112</div>
<div class="cell" style="left:159.5px;top:197.99px;letter-spacing:-0.35px">交通费</div>
<div class="cell num lnk" style="left:226.4px;top:197.49px">660112</div>
<div class="cell num r" style="left:280.4px;width:40.7px;top:197.49px">0.12</div>
<div class="cell num r" style="left:328.3px;width:64.5px;top:197.49px">0.06</div>
<div class="cell num r red" style="left:400.0px;width:55.0px;top:197.49px">0.06<svg style="margin-left:3px;vertical-align:-0.5px" width="4.4" height="7" viewBox="0 0 4.4 7"><path d="M2.2 0 L4.4 3 L2.7 3 L2.7 7 L1.7 7 L1.7 3 L0 3 Z" fill="#b52a30"/></svg></div>
<div class="cell num r" style="left:466.7px;width:50.8px;top:197.49px">102.78%</div>
<div class="cell num r red" style="left:593.8px;width:61.6px;top:197.49px">0.12<svg style="margin-left:3px;vertical-align:-0.5px" width="4.4" height="7" viewBox="0 0 4.4 7"><path d="M2.2 0 L4.4 3 L2.7 3 L2.7 7 L1.7 7 L1.7 3 L0 3 Z" fill="#b52a30"/></svg></div>
<div class="cell num r" style="left:722.0px;width:48.1px;top:197.49px">0.06</div>
<div class="cell num r red" style="left:777.3px;width:52.1px;top:197.49px">0.06<svg style="margin-left:3px;vertical-align:-0.5px" width="4.4" height="7" viewBox="0 0 4.4 7"><path d="M2.2 0 L4.4 3 L2.7 3 L2.7 7 L1.7 7 L1.7 3 L0 3 Z" fill="#b52a30"/></svg></div>
<div class="cell num r" style="left:841.1px;width:48.2px;top:197.49px">102.78%</div>
<div class="cell num r" style="left:955.3px;width:40.7px;top:197.49px">0.12</div>
<div class="cell" style="left:8.5px;top:216.21px;letter-spacing:-0.35px">销售费用</div>
<div class="cell" style="left:60.0px;top:216.21px;letter-spacing:-0.35px">其他费用</div>
<div class="cell num" style="left:108.3px;top:215.71px">660113</div>
<div class="cell" style="left:159.5px;top:216.21px;letter-spacing:-0.35px">招待费</div>
<div class="cell num lnk" style="left:226.4px;top:215.71px">660113</div>
<div class="cell num r" style="left:280.4px;width:40.7px;top:215.71px">0.97</div>
<div class="cell num r" style="left:328.3px;width:64.5px;top:215.71px">0.72</div>
<div class="cell num r red" style="left:400.0px;width:55.0px;top:215.71px">0.24<svg style="margin-left:3px;vertical-align:-0.5px" width="4.4" height="7" viewBox="0 0 4.4 7"><path d="M2.2 0 L4.4 3 L2.7 3 L2.7 7 L1.7 7 L1.7 3 L0 3 Z" fill="#b52a30"/></svg></div>
<div class="cell num r" style="left:466.7px;width:50.8px;top:215.71px">33.52%</div>
<div class="cell num r red" style="left:593.8px;width:61.6px;top:215.71px">0.97<svg style="margin-left:3px;vertical-align:-0.5px" width="4.4" height="7" viewBox="0 0 4.4 7"><path d="M2.2 0 L4.4 3 L2.7 3 L2.7 7 L1.7 7 L1.7 3 L0 3 Z" fill="#b52a30"/></svg></div>
<div class="cell num r" style="left:722.0px;width:48.1px;top:215.71px">0.72</div>
<div class="cell num r red" style="left:777.3px;width:52.1px;top:215.71px">0.24<svg style="margin-left:3px;vertical-align:-0.5px" width="4.4" height="7" viewBox="0 0 4.4 7"><path d="M2.2 0 L4.4 3 L2.7 3 L2.7 7 L1.7 7 L1.7 3 L0 3 Z" fill="#b52a30"/></svg></div>
<div class="cell num r" style="left:841.1px;width:48.2px;top:215.71px">33.52%</div>
<div class="cell num r" style="left:955.3px;width:40.7px;top:215.71px">0.97</div>
<div class="cell" style="left:8.5px;top:234.43px;letter-spacing:-0.35px">销售费用</div>
<div class="cell" style="left:60.0px;top:234.43px;letter-spacing:-0.35px">其他费用</div>
<div class="cell num" style="left:108.3px;top:233.93px">660114</div>
<div class="cell" style="left:159.5px;top:234.43px;letter-spacing:-0.35px">差旅费</div>
<div class="cell num lnk" style="left:226.4px;top:233.93px">660114</div>
<div class="cell num r" style="left:280.4px;width:40.7px;top:233.93px">92.34</div>
<div class="cell num r" style="left:328.3px;width:64.5px;top:233.93px">0.20</div>
<div class="cell num r red" style="left:400.0px;width:55.0px;top:233.93px">92.14<svg style="margin-left:3px;vertical-align:-0.5px" width="4.4" height="7" viewBox="0 0 4.4 7"><path d="M2.2 0 L4.4 3 L2.7 3 L2.7 7 L1.7 7 L1.7 3 L0 3 Z" fill="#b52a30"/></svg></div>
<div class="cell num" style="left:474.3px;top:233.93px">46,067.9...</div>
<div class="cell num r red" style="left:593.8px;width:61.6px;top:233.93px">92.34<svg style="margin-left:3px;vertical-align:-0.5px" width="4.4" height="7" viewBox="0 0 4.4 7"><path d="M2.2 0 L4.4 3 L2.7 3 L2.7 7 L1.7 7 L1.7 3 L0 3 Z" fill="#b52a30"/></svg></div>
<div class="cell num r" style="left:722.0px;width:48.1px;top:233.93px">0.20</div>
<div class="cell num r red" style="left:777.3px;width:52.1px;top:233.93px">92.14<svg style="margin-left:3px;vertical-align:-0.5px" width="4.4" height="7" viewBox="0 0 4.4 7"><path d="M2.2 0 L4.4 3 L2.7 3 L2.7 7 L1.7 7 L1.7 3 L0 3 Z" fill="#b52a30"/></svg></div>
<div class="cell num" style="left:848.7px;top:233.93px">46,067....</div>
<div class="cell num r" style="left:955.3px;width:40.7px;top:233.93px">92.34</div>
<div class="cell" style="left:9px;top:250.5px;font-weight:bold">总计</div>
<div class="cell num r" style="left:280.4px;width:40.7px;top:249.7px;font-size:7.6px;color:#222;letter-spacing:0.1px;filter:blur(1.3px)">2885.08</div>
<div class="cell num r" style="left:328.3px;width:64.5px;top:249.7px;font-size:7.6px;color:#222;letter-spacing:0.1px;filter:blur(1.3px)">187.83</div>
<div class="cell num r" style="left:400.0px;width:59.5px;top:249.7px;font-size:7.6px;color:#222;letter-spacing:0.1px;filter:blur(1.3px)">1103.88</div>
<div class="cell num" style="left:474.5px;top:249.7px;font-size:7.6px;color:#222;letter-spacing:0.1px;filter:blur(1.3px)">46,8999...</div>
<div class="cell num r" style="left:722.0px;width:48.1px;top:249.7px;font-size:7.6px;color:#222;letter-spacing:0.1px;filter:blur(1.3px)">187.83</div>
<div class="cell num r" style="left:777.3px;width:56.6px;top:249.7px;font-size:7.6px;color:#222;letter-spacing:0.1px;filter:blur(1.3px)">1103.88</div>
<div class="cell num" style="left:848.9px;top:249.7px;font-size:7.6px;color:#222;letter-spacing:0.1px;filter:blur(1.3px)">46,8999...</div>
<div class="cell num r" style="left:955.3px;width:40.7px;top:249.7px;font-size:7.6px;color:#222;letter-spacing:0.1px;filter:blur(1.3px)">2885.08</div>
<div class="cell num r" style="left:593.8px;width:66.1px;top:249.7px;font-size:7.6px;color:#222;letter-spacing:0.1px;filter:blur(1.3px)">2885.08</div>
<div class="abs" style="left:0;top:0;width:1060px;height:35.6px;background:#b4dcf6"></div>
<div class="abs" style="left:51.0px;top:0.0px;width:1px;height:35.6px;background:#a5cfea"></div>
<div class="abs" style="left:99.8px;top:0.0px;width:1px;height:35.6px;background:#a5cfea"></div>
<div class="abs" style="left:150.5px;top:0.0px;width:1px;height:35.6px;background:#a5cfea"></div>
<div class="abs" style="left:217.9px;top:0.0px;width:1px;height:35.6px;background:#a5cfea"></div>
<div class="abs" style="left:279.9px;top:0.0px;width:1px;height:35.6px;background:#a5cfea"></div>
<div class="abs" style="left:327.8px;top:0.0px;width:1px;height:35.6px;background:#a5cfea"></div>
<div class="abs" style="left:399.5px;top:17.2px;width:1px;height:18.4px;background:#a5cfea"></div>
<div class="abs" style="left:466.2px;top:17.2px;width:1px;height:18.4px;background:#a5cfea"></div>
<div class="abs" style="left:524.2px;top:0.0px;width:1px;height:35.6px;background:#a5cfea"></div>
<div class="abs" style="left:593.3px;top:17.2px;width:1px;height:18.4px;background:#a5cfea"></div>
<div class="abs" style="left:666.6px;top:17.2px;width:1px;height:18.4px;background:#a5cfea"></div>
<div class="abs" style="left:721.5px;top:0.0px;width:1px;height:35.6px;background:#a5cfea"></div>
<div class="abs" style="left:776.8px;top:17.2px;width:1px;height:18.4px;background:#a5cfea"></div>
<div class="abs" style="left:840.6px;top:17.2px;width:1px;height:18.4px;background:#a5cfea"></div>
<div class="abs" style="left:896.0px;top:0.0px;width:1px;height:35.6px;background:#a5cfea"></div>
<div class="abs" style="left:954.8px;top:17.2px;width:1px;height:18.4px;background:#a5cfea"></div>
<div class="abs" style="left:1002.7px;top:17.2px;width:1px;height:18.4px;background:#a5cfea"></div>
<div class="abs" style="left:1052.7px;top:0.0px;width:1px;height:35.6px;background:#a5cfea"></div>
<div class="abs" style="left:328.3px;top:16.7px;width:724.9px;height:1px;background:#a5cfea"></div>
<div class="th" style="left:0.0px;width:51.5px;top:14.3px">费用大类</div>
<div class="th" style="left:51.5px;width:48.8px;top:14.3px">耗用类别</div>
<div class="th" style="left:151.0px;width:67.4px;top:14.3px">费用项目名称</div>
<div class="th" style="left:218.4px;width:62.0px;top:14.3px">对应科目编码</div>
<div class="th" style="left:280.4px;width:47.9px;top:14.3px">当月费用</div>
<div class="th" style="left:100.3px;width:50.7px;top:9.0px">费用项目</div>
<div class="th" style="left:100.3px;width:50.7px;top:19.5px">编码</div>
<div class="th" style="left:328.3px;width:196.4px;top:5.5px">环比月比</div>
<div class="th" style="left:524.7px;width:197.3px;top:5.5px">同期月比</div>
<div class="th" style="left:722.0px;width:174.5px;top:5.5px">自选比较月比</div>
<div class="th" style="left:896.5px;width:156.7px;top:5.5px">预算比</div>
<div class="th" style="left:328.3px;width:71.7px;top:22.9px">发生额</div>
<div class="th" style="left:400.0px;width:66.7px;top:22.9px">变动额</div>
<div class="th" style="left:466.7px;width:58.0px;top:22.9px">变动率</div>
<div class="th" style="left:524.7px;width:69.1px;top:22.9px">发生额</div>
<div class="th" style="left:593.8px;width:73.3px;top:22.9px">变动额</div>
<div class="th" style="left:667.1px;width:54.9px;top:22.9px">变动率</div>
<div class="th" style="left:722.0px;width:55.3px;top:22.9px">发生额</div>
<div class="th" style="left:777.3px;width:63.8px;top:22.9px">变动额</div>
<div class="th" style="left:841.1px;width:55.4px;top:22.9px">变动率</div>
<div class="th" style="left:896.5px;width:58.8px;top:22.9px">预算额</div>
<div class="th" style="left:955.3px;width:47.9px;top:22.9px">差异额</div>
<div class="th" style="left:1003.2px;width:50.0px;top:22.9px">执行率</div>
<div class="abs" style="left:1053.2px;top:35.4px;width:7px;height:210.1px;background:#fff"></div>
<div class="abs" style="left:1055.7px;top:115.8px;width:4px;height:39px;border-radius:2px;background:#c9c9c9"></div>
</div>
</div></body></html>
